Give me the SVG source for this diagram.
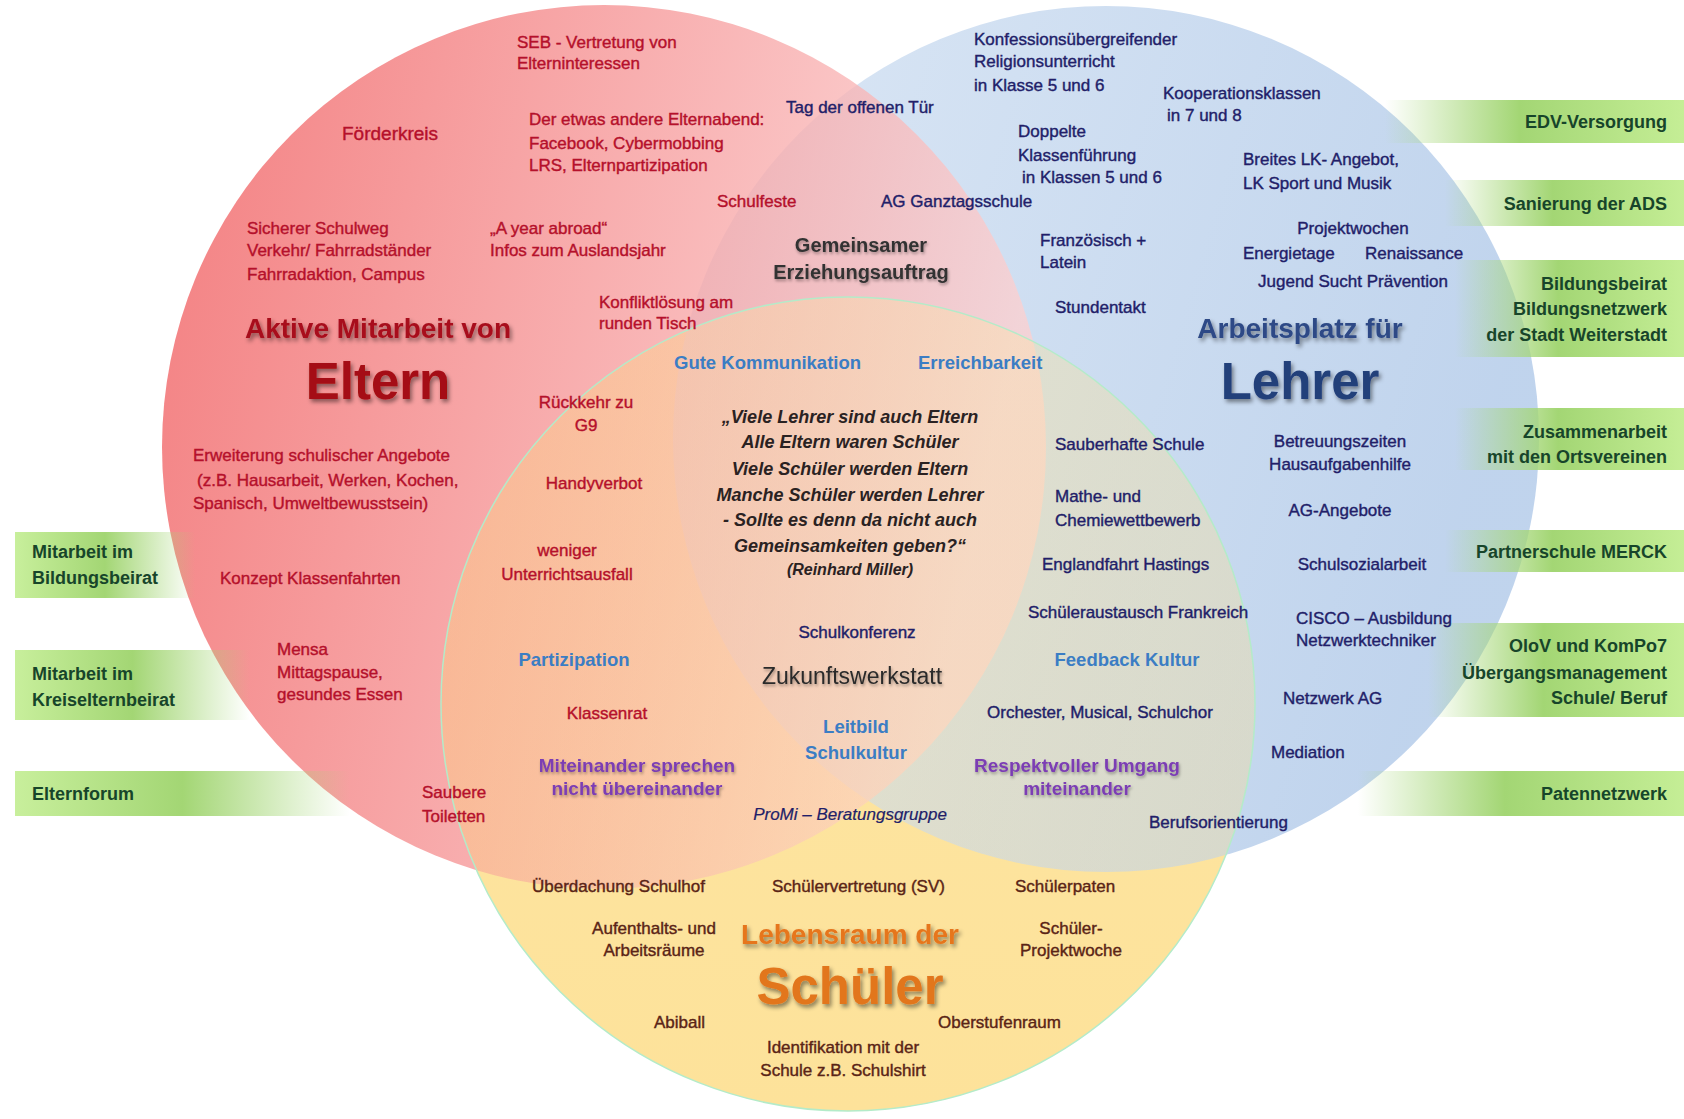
<svg xmlns="http://www.w3.org/2000/svg" width="1684" height="1119" viewBox="0 0 1684 1119">
<defs>
<linearGradient id="gRed" x1="0" y1="0" x2="1" y2="0.2">
<stop offset="0" stop-color="#f05a5c"/>
<stop offset="0.45" stop-color="#f58e8f"/>
<stop offset="1" stop-color="#fcd0d0"/>
</linearGradient>
<linearGradient id="gBlue" x1="0" y1="0" x2="1" y2="0.3">
<stop offset="0" stop-color="#d8e5f4"/>
<stop offset="1" stop-color="#b9cfeb"/>
</linearGradient>
<linearGradient id="gYel" x1="0" y1="0" x2="0" y2="1">
<stop offset="0" stop-color="#fde6a4"/>
<stop offset="1" stop-color="#fde29a"/>
</linearGradient>
<linearGradient id="gBoxL" x1="0" y1="0" x2="1" y2="0">
<stop offset="0" stop-color="#c8ef9c"/>
<stop offset="0.5" stop-color="#a3d674"/>
<stop offset="1" stop-color="#a3d674" stop-opacity="0"/>
</linearGradient>
<linearGradient id="gBoxR" x1="0" y1="0" x2="1" y2="0">
<stop offset="0" stop-color="#a3d674" stop-opacity="0"/>
<stop offset="0.45" stop-color="#a3d674"/>
<stop offset="1" stop-color="#c5ee96"/>
</linearGradient>
<filter id="sh" x="-10%" y="-30%" width="120%" height="160%">
<feDropShadow dx="2" dy="3" stdDeviation="2" flood-color="#000" flood-opacity="0.45"/>
</filter>
<filter id="sh2" x="-10%" y="-30%" width="120%" height="160%">
<feDropShadow dx="1" dy="2" stdDeviation="1.5" flood-color="#000" flood-opacity="0.35"/>
</filter>
</defs>
<style>
text{font-family:"Liberation Sans",Arial,sans-serif;font-size:17px;stroke-width:0.4}
.m{text-anchor:middle}
.e{text-anchor:end}
.r{fill:#b5102b;stroke:#b5102b}
.n{fill:#221e69;stroke:#221e69}
.br{fill:#5a2416;stroke:#5a2416}
.lb{fill:#3b7dc4;font-weight:bold;font-size:18.5px;stroke:none}
.pu{fill:#7b3db4;font-weight:bold;font-size:19px;stroke:none;filter:url(#sh2)}
.gr{fill:#17452a;font-weight:bold;font-size:18px;stroke:none}
.q{fill:#2a2222;font-weight:bold;font-style:italic;font-size:18px;stroke:none}
.h{font-weight:bold;font-size:28px;stroke:none;filter:url(#sh)}
.big{font-weight:bold;font-size:51px;stroke:none;filter:url(#sh)}
</style>

<g id="circles">
<circle id="c-schueler-base" cx="848" cy="704" r="407" fill="url(#gYel)"/>
<circle id="c-lehrer" cx="1106" cy="439" r="433" fill="url(#gBlue)" fill-opacity="0.9"/>
<circle id="c-eltern" cx="604" cy="447" r="442" fill="url(#gRed)" fill-opacity="0.78"/>
<circle id="c-schueler" cx="848" cy="704" r="407" fill="url(#gYel)" fill-opacity="0.35" stroke="#b4ebc9" stroke-width="1.5"/>
</g>

<g id="boxes">
<g id="box-edv"><rect x="1385" y="100" width="299" height="43" fill="url(#gBoxR)"/><text class="gr e" x="1667" y="128">EDV-Versorgung</text></g>
<g id="box-ads"><rect x="1445" y="180" width="239" height="46" fill="url(#gBoxR)"/><text class="gr e" x="1667" y="210">Sanierung der ADS</text></g>
<g id="box-bildung"><rect x="1455" y="260" width="229" height="97" fill="url(#gBoxR)"/><text class="gr e" x="1667" y="290">Bildungsbeirat</text><text class="gr e" x="1667" y="315">Bildungsnetzwerk</text><text class="gr e" x="1667" y="341">der Stadt Weiterstadt</text></g>
<g id="box-zusammen"><rect x="1455" y="408" width="229" height="62" fill="url(#gBoxR)"/><text class="gr e" x="1667" y="438">Zusammenarbeit</text><text class="gr e" x="1667" y="463">mit den Ortsvereinen</text></g>
<g id="box-merck"><rect x="1445" y="530" width="239" height="42" fill="url(#gBoxR)"/><text class="gr e" x="1667" y="558">Partnerschule MERCK</text></g>
<g id="box-olov"><rect x="1428" y="623" width="256" height="94" fill="url(#gBoxR)"/><text class="gr e" x="1667" y="652">OloV und KomPo7</text><text class="gr e" x="1667" y="679">Übergangsmanagement</text><text class="gr e" x="1667" y="704">Schule/ Beruf</text></g>
<g id="box-paten"><rect x="1358" y="771" width="326" height="45" fill="url(#gBoxR)"/><text class="gr e" x="1667" y="800">Patennetzwerk</text></g>
<g id="box-bildungsbeirat"><rect x="15" y="532" width="180" height="66" fill="url(#gBoxL)"/><text class="gr" x="32" y="558">Mitarbeit im</text><text class="gr" x="32" y="584">Bildungsbeirat</text></g>
<g id="box-kreis"><rect x="15" y="650" width="235" height="70" fill="url(#gBoxL)"/><text class="gr" x="32" y="680">Mitarbeit im</text><text class="gr" x="32" y="706">Kreiselternbeirat</text></g>
<g id="box-forum"><rect x="15" y="771" width="335" height="45" fill="url(#gBoxL)"/><text class="gr" x="32" y="800">Elternforum</text></g>
</g>

<g id="eltern-texts">
<text class="r" x="517" y="48">SEB - Vertretung von</text>
<text class="r" x="517" y="69">Elterninteressen</text>
<text class="r" x="342" y="140" style="font-size:19px">Förderkreis</text>
<text class="r" x="529" y="125">Der etwas andere Elternabend:</text>
<text class="r" x="529" y="149">Facebook, Cybermobbing</text>
<text class="r" x="529" y="171">LRS, Elternpartizipation</text>
<text class="r" x="717" y="207">Schulfeste</text>
<text class="r" x="247" y="234">Sicherer Schulweg</text>
<text class="r" x="247" y="256">Verkehr/ Fahrradständer</text>
<text class="r" x="247" y="280">Fahrradaktion, Campus</text>
<text class="r" x="490" y="234">„A year abroad“</text>
<text class="r" x="490" y="256">Infos zum Auslandsjahr</text>
<text class="r" x="599" y="308">Konfliktlösung am</text>
<text class="r" x="599" y="329">runden Tisch</text>
<text class="h m" x="378" y="338" fill="#a8101c">Aktive Mitarbeit von</text>
<text class="big m" x="378" y="399" fill="#a50d12">Eltern</text>
<text class="r m" x="586" y="408">Rückkehr zu</text>
<text class="r m" x="586" y="431">G9</text>
<text class="r" x="193" y="461">Erweiterung schulischer Angebote</text>
<text class="r" x="197" y="486">(z.B. Hausarbeit, Werken, Kochen,</text>
<text class="r" x="193" y="509">Spanisch, Umweltbewusstsein)</text>
<text class="r m" x="594" y="489">Handyverbot</text>
<text class="r m" x="567" y="556">weniger</text>
<text class="r m" x="567" y="580">Unterrichtsausfall</text>
<text class="r" x="220" y="584">Konzept Klassenfahrten</text>
<text class="r" x="277" y="655">Mensa</text>
<text class="r" x="277" y="678">Mittagspause,</text>
<text class="r" x="277" y="700">gesundes Essen</text>
<text class="r m" x="607" y="719">Klassenrat</text>
<text class="r" x="422" y="798">Saubere</text>
<text class="r" x="422" y="822">Toiletten</text>
</g>

<g id="lehrer-texts">
<text class="n" x="786" y="113">Tag der offenen Tür</text>
<text class="n" x="881" y="207">AG Ganztagsschule</text>
<text class="n" x="974" y="45">Konfessionsübergreifender</text>
<text class="n" x="974" y="67">Religionsunterricht</text>
<text class="n" x="974" y="91">in Klasse 5 und 6</text>
<text class="n" x="1163" y="99">Kooperationsklassen</text>
<text class="n" x="1167" y="121">in 7 und 8</text>
<text class="n" x="1018" y="137">Doppelte</text>
<text class="n" x="1018" y="161">Klassenführung</text>
<text class="n" x="1022" y="183">in Klassen 5 und 6</text>
<text class="n" x="1243" y="165">Breites LK- Angebot,</text>
<text class="n" x="1243" y="189">LK Sport und Musik</text>
<text class="n m" x="1353" y="234">Projektwochen</text>
<text class="n" x="1243" y="259">Energietage</text>
<text class="n" x="1365" y="259">Renaissance</text>
<text class="n m" x="1353" y="287">Jugend Sucht Prävention</text>
<text class="n" x="1040" y="246">Französisch +</text>
<text class="n" x="1040" y="268">Latein</text>
<text class="n" x="1055" y="313">Stundentakt</text>
<text class="h m" x="1300" y="338" fill="#2d4a86">Arbeitsplatz für</text>
<text class="big m" x="1300" y="399" fill="#233f7a">Lehrer</text>
<text class="n m" x="1340" y="447">Betreuungszeiten</text>
<text class="n m" x="1340" y="470">Hausaufgabenhilfe</text>
<text class="n m" x="1340" y="516">AG-Angebote</text>
<text class="n m" x="1362" y="570">Schulsozialarbeit</text>
<text class="n" x="1296" y="624">CISCO – Ausbildung</text>
<text class="n" x="1296" y="646">Netzwerktechniker</text>
<text class="n" x="1283" y="704">Netzwerk AG</text>
<text class="n" x="1271" y="758">Mediation</text>
<text class="n" x="1149" y="828">Berufsorientierung</text>
<text class="n" x="1055" y="450">Sauberhafte Schule</text>
<text class="n" x="1055" y="502">Mathe- und</text>
<text class="n" x="1055" y="526">Chemiewettbewerb</text>
<text class="n" x="1042" y="570">Englandfahrt Hastings</text>
<text class="n" x="1028" y="618">Schüleraustausch Frankreich</text>
<text class="n" x="987" y="718">Orchester, Musical, Schulchor</text>
</g>

<g id="shared-texts">
<text class="m" x="861" y="252" style="font-weight:bold;font-size:20px;fill:#333;stroke:none;filter:url(#sh2)">Gemeinsamer</text>
<text class="m" x="861" y="279" style="font-weight:bold;font-size:20px;fill:#333;stroke:none;filter:url(#sh2)">Erziehungsauftrag</text>
<text class="lb" x="674" y="369">Gute Kommunikation</text>
<text class="lb" x="918" y="369">Erreichbarkeit</text>
<text class="q m" x="850" y="423">„Viele Lehrer sind auch Eltern</text>
<text class="q m" x="850" y="448">Alle Eltern waren Schüler</text>
<text class="q m" x="850" y="475">Viele Schüler werden Eltern</text>
<text class="q m" x="850" y="501">Manche Schüler werden Lehrer</text>
<text class="q m" x="850" y="526">- Sollte es denn da nicht auch</text>
<text class="q m" x="850" y="552">Gemeinsamkeiten geben?“</text>
<text class="q m" x="850" y="575" style="font-size:16px">(Reinhard Miller)</text>
<text class="lb m" x="574" y="666">Partizipation</text>
<text class="lb m" x="1127" y="666">Feedback Kultur</text>
<text class="n m" x="857" y="638">Schulkonferenz</text>
<text class="m" x="852" y="684" style="font-size:23px;fill:#2a2a2a;stroke:none;filter:url(#sh2)">Zukunftswerkstatt</text>
<text class="lb m" x="856" y="733">Leitbild</text>
<text class="lb m" x="856" y="759">Schulkultur</text>
<text class="pu m" x="637" y="772">Miteinander sprechen</text>
<text class="pu m" x="637" y="795">nicht übereinander</text>
<text class="pu m" x="1077" y="772">Respektvoller Umgang</text>
<text class="pu m" x="1077" y="795">miteinander</text>
<text class="n m" x="850" y="820" style="font-style:italic;stroke-width:0.2">ProMi – Beratungsgruppe</text>
</g>

<g id="schueler-texts">
<text class="br" x="532" y="892">Überdachung Schulhof</text>
<text class="br" x="772" y="892">Schülervertretung (SV)</text>
<text class="br" x="1015" y="892">Schülerpaten</text>
<text class="br m" x="654" y="934">Aufenthalts- und</text>
<text class="br m" x="654" y="956">Arbeitsräume</text>
<text class="h m" x="850" y="944" fill="#e6761f">Lebensraum der</text>
<text class="br m" x="1071" y="934">Schüler-</text>
<text class="br m" x="1071" y="956">Projektwoche</text>
<text class="big m" x="850" y="1004" fill="#e2761e">Schüler</text>
<text class="br" x="654" y="1028">Abiball</text>
<text class="br" x="938" y="1028">Oberstufenraum</text>
<text class="br m" x="843" y="1053">Identifikation mit der</text>
<text class="br m" x="843" y="1076">Schule z.B. Schulshirt</text>
</g>
</svg>
